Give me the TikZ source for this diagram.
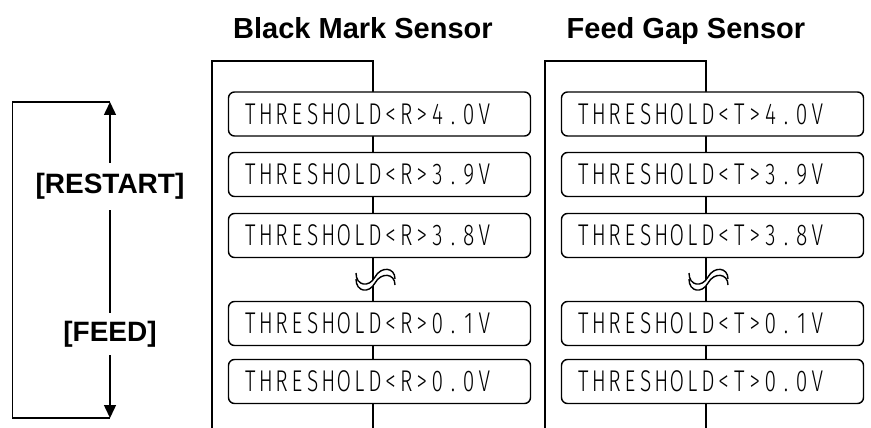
\documentclass[tikz,border=0pt]{standalone}
\usepackage{fontspec}
\setmainfont{Liberation Sans}
\newfontfamily\thinfont[FakeStretch=0.7]{Fira Sans Light}
\newcommand\pitched[1]{\pitchloop#1\relax}
\def\pitchloop#1{\ifx\relax#1\else\makebox[15.6pt][c]{#1}\expandafter\pitchloop\fi}
\usetikzlibrary{arrows.meta}
\tikzset{
  ln/.style={line width=1.5pt},
  thbox/.style={draw, line width=1.4pt, rounded corners=6pt, fill=white,
    minimum width=302pt, minimum height=44pt, inner xsep=14pt, inner ysep=0pt,
    text width=274pt, align=left, text height=20.5pt, text depth=0pt,
    font=\thinfont\fontsize{30}{30}\selectfont},
  title/.style={anchor=base, font=\bfseries\fontsize{29}{29}\selectfont},
  keylbl/.style={inner sep=0pt, font=\bfseries\fontsize{28}{28}\selectfont},
  arr/.style={ln, -{Triangle[width=12pt,length=13pt]}},
  wave/.style={line width=1.4pt}
}
\begin{document}
\begin{tikzpicture}[x=1pt,y=-1pt]
\useasboundingbox (0,0) rectangle (871,428);
% titles
\node[title] (t1) at (363,39) {Black Mark Sensor};
\node[title] (t2) at (686,39) {Feed Gap Sensor};
% left bracket
\coordinate (ktop) at (110,102);
\coordinate (kbot) at (110,418);
\node[keylbl, minimum height=47pt] (restart) at (110,186.5) {[RESTART]};
\node[keylbl, minimum height=42pt] (feed) at (110,334) {[FEED]};
\draw[ln] (ktop) -- (12.7,102) -- (12.7,418) -- (kbot);
\draw[arr] (restart.north) -- (ktop);
\draw[ln] (restart.south) -- (feed.north);
\draw[arr] (feed.south) -- (kbot);
% columns
\foreach \cl/\cx/\lab/\c in {212/373/R/a, 545/706/T/b}{
  \coordinate (\c bl) at (\cl,428);
  \coordinate (\c tl) at (\cl,61);
  \coordinate (\c tr) at (\cx,61);
  \coordinate (\c br) at (\cx,428);
  \draw[ln] (\c bl) -- (\c tl) -- (\c tr) -- (\c br);
  \node[thbox] (\c1) at (\cx+6.5,114) {\pitched{THRESHOLD<\lab>4.0V}};
  \node[thbox] (\c2) at (\cx+6.5,174.5) {\pitched{THRESHOLD<\lab>3.9V}};
  \node[thbox] (\c3) at (\cx+6.5,235.5) {\pitched{THRESHOLD<\lab>3.8V}};
  \node[thbox] (\c4) at (\cx+6.5,323.5) {\pitched{THRESHOLD<\lab>0.1V}};
  \node[thbox] (\c5) at (\cx+6.5,381.5) {\pitched{THRESHOLD<\lab>0.0V}};
  \fill[white] (\cx-17,273) .. controls (\cx-17,286) and (\cx-4,288) .. (\cx+2,277)
     .. controls (\cx+8,266) and (\cx+22,267) .. (\cx+22,279)
     -- (\cx+22,285) .. controls (\cx+22,273) and (\cx+8,272) .. (\cx+2,283)
     .. controls (\cx-4,294) and (\cx-17,292) .. (\cx-17,279) -- cycle;
  \draw[wave] (\cx-17,273) .. controls (\cx-17,286) and (\cx-4,288) .. (\cx+2,277)
     .. controls (\cx+8,266) and (\cx+22,267) .. (\cx+22,279);
  \draw[wave] (\cx-17,279) .. controls (\cx-17,292) and (\cx-4,294) .. (\cx+2,283)
     .. controls (\cx+8,272) and (\cx+22,273) .. (\cx+22,285);
}
\end{tikzpicture}
\end{document}
